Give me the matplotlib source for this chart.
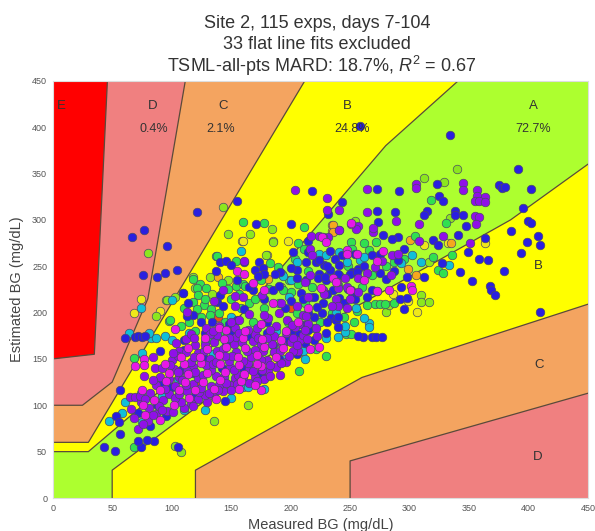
"""Clarke/Parkes style error grid with per-experiment scatter of estimated vs measured BG."""
import matplotlib
matplotlib.use("Agg")
import numpy as np
import matplotlib.pyplot as plt

plt.rcParams['font.family'] = ['Liberation Sans', 'DejaVu Sans']
plt.rcParams['mathtext.fontset'] = 'custom'
plt.rcParams['mathtext.it'] = 'Liberation Sans:italic'
plt.rcParams['mathtext.rm'] = 'Liberation Sans'

# zone boundaries (measured, estimated)
d_upper = [(0, 150), (35, 155), (46, 450)]
c_upper = [(0, 100), (25, 100), (50, 125), (80, 215), (111.5, 450)]
b_upper = [(0, 60), (30, 60), (212, 450)]
a_upper = [(0, 50), (30, 50), (140, 170), (280, 380), (341, 450)]
a_lower = [(50, 0), (50, 30), (170, 145), (385, 300), (450, 360)]
b_lower = [(120, 0), (120, 30), (260, 130), (450, 209)]
c_lower = [(250, 0), (250, 40), (450, 113)]

zone_labels = ['E', 'D', 'C', 'B', 'A', 'B', 'C', 'D']
zone_label_x = [7, 84, 143, 248, 404, 408, 409, 408]
zone_label_y = [423, 423, 423, 423, 423, 250, 143, 44]
pct_labels = ['0.4%', '2.1%', '24.8%', '72.7%']
pct_x = [85, 141, 252, 404]
pct_y = [398, 398, 398, 398]

ticks = [0, 50, 100, 150, 200, 250, 300, 350, 400, 450]

lime_pts = [(79.7, 264), (143.5, 314), (147.5, 285), (118, 238), (132, 238), (108, 50), (135.5, 83), (164.5, 100),
            (312, 345), (329, 341), (339.7, 355), (334, 302), (254, 299), (310, 219), (310, 211), (316, 211),
            (280, 201), (283, 208), (87, 196), (95, 213), (102.6, 217), (96, 214), (103, 56), (185, 276),
            (179.6, 262), (192, 228), (120, 226), (134, 220), (147.5, 235), (166, 285), (184, 290), (316, 254)]
yellow_pts = [(159, 277), (185.5, 277), (198, 277), (180, 262), (74.5, 215), (68, 200), (90, 202), (305.9, 201),
              (312, 273), (332, 275), (159.6, 277), (363, 275), (299, 212), (286, 220)]
orange_pts = [(235, 294), (235, 288), (300, 278), (335, 275), (236, 294), (236, 287), (181, 236), (138.6, 238),
              (299, 247), (305, 240)]
redorange_pts = [(139, 195), (125, 125), (200, 205)]
green_pts = [(160, 298), (178, 297), (118, 236), (137.5, 261), (68.5, 151), (98, 191), (68, 55), (318, 321),
             (331, 297), (335.6, 262), (211, 292), (324, 246), (328, 243), (320, 260), (271, 209), (275, 209.5),
             (279, 209), (287, 210), (230, 153), (207, 137), (137.7, 261), (154.5, 256), (124, 231), (128.7, 226),
             (121, 226), (122, 219), (118, 211), (127, 208), (121, 204), (133, 204), (142, 232), (153.7, 229),
             (160, 231), (157, 220), (132, 197), (98.5, 192), (206, 275), (211, 268), (193.5, 224), (199, 235),
             (251, 276), (189, 249), (182.7, 253), (161.5, 229), (193, 242), (203.5, 258), (206, 231), (252, 269),
             (272, 276), (266, 267), (286.6, 255), (295, 258), (304.6, 283), (264, 208), (255.9, 202), (246.7, 177),
             (251, 177), (221, 161), (110, 205), (115, 190), (128, 215), (140, 200), (150, 215), (165, 210),
             (175, 235), (150, 170), (135, 170), (178, 205), (190, 210), (198, 190), (205, 200), (215, 245),
             (240, 230), (260, 228), (168, 190), (145, 190), (120, 180), (182, 225), (170, 215), (158, 205),
             (147, 225), (200, 222), (218, 228), (232, 242), (248, 250), (268, 240), (280, 250), (262, 275),
             (125, 195), (108, 185), (212, 210), (245, 195), (235, 200), (225, 190), (253, 190), (140, 178)]
cyan_pts = [(64, 178), (74, 205), (75, 156), (61, 103), (74, 113), (47.5, 83), (100, 214), (94, 175), (83, 172),
            (81, 178), (87, 172), (160, 120), (164, 120), (310, 254), (302, 262), (333, 251), (266, 189),
            (262, 194), (266, 184), (246, 179), (240, 174), (158.7, 266), (224, 263), (205.6, 255), (247.7, 255),
            (193.5, 239), (230, 262), (199, 217), (217, 217), (258, 257), (262, 260), (241, 265), (293, 253),
            (220, 183), (230, 172), (210, 158), (246, 185), (100, 170), (115, 178), (128, 168), (105, 128),
            (92, 110), (135, 155), (150, 195), (170, 175), (188, 180), (75, 82), (58, 92), (110, 95), (195, 150),
            (128, 95), (150, 108), (178, 118), (212, 150), (238, 200), (255, 205), (200, 235)]
blue_pts = [(66.9, 281), (76.7, 289), (96, 272), (121.7, 308), (155, 320), (75.8, 241), (87.9, 238), (94, 243),
            (104.7, 246), (109.4, 221), (171, 296), (200, 296), (258, 401), (333.6, 391), (391, 355), (217.7, 331),
            (272.9, 333), (291, 331), (322.7, 339), (375, 338), (378, 334), (380.6, 335), (402, 333), (325, 326),
            (328, 320), (395, 313), (338, 310), (338, 305), (345, 305), (314.6, 309), (312.3, 305), (288, 308),
            (272.9, 309), (273.4, 298), (243.4, 319), (231.8, 306), (347.6, 293), (341, 284), (399.6, 299),
            (401.7, 297), (385, 288), (408, 282), (399, 276), (410, 273), (393.9, 264), (363, 280), (349, 265),
            (358, 258), (365.7, 257), (379, 245), (327, 253), (342.5, 244), (352.8, 234), (367.7, 229), (368.5, 224),
            (372, 219), (312, 238), (320, 278), (324, 273), (410, 201), (295, 204), (292, 215), (298, 216),
            (234, 194), (238, 192), (240, 184), (261, 174), (268, 174), (272, 174), (277, 174), (257, 175),
            (43.4, 55), (52.4, 51), (56.5, 69), (56.5, 117), (74, 55), (72, 62), (85, 62), (105, 55), (79, 63),
            (61, 173), (69, 174), (72, 175), (75, 174), (78, 175), (90, 158), (53, 88), (56, 82),
            (141, 254), (146, 256), (150, 251), (137, 245), (109.7, 221), (113.9, 210), (140.5, 219), (138, 211),
            (143, 207), (118, 197), (113, 196), (134, 190), (148, 188), (161, 204), (214.6, 277), (202, 265),
            (233.5, 266), (237, 258), (221.5, 255), (228, 251), (241, 251), (205.6, 246), (224, 242), (233, 246),
            (252, 244), (256.6, 247), (205.6, 237), (213, 235), (223, 237), (230, 235), (241, 240), (168.5, 224),
            (173.6, 254), (177, 248), (185, 224), (190, 229), (191, 244), (186.6, 242), (160.6, 255), (209, 221),
            (235.7, 224), (251, 224), (252, 217), (178, 242), (170, 246), (173, 239), (224, 257), (231, 250),
            (228.6, 238), (240, 242), (249.6, 242), (256, 244), (254, 263), (275, 263), (290.6, 281), (285, 279),
            (278, 284), (295.6, 269), (290, 257), (275, 243), (287.3, 245), (293, 227), (268, 224), (241, 216),
            (210, 215), (220, 217), (231, 220), (227, 210), (245, 210), (254, 215), (264, 217), (220, 195),
            (231, 190), (215, 181), (220, 170), (207, 177), (212, 167), (230, 178), (110, 160), (125, 190),
            (155, 192), (165, 175), (180, 190), (195, 205), (200, 180), (185, 165), (150, 178), (100, 120),
            (88, 100), (72, 92), (118, 135), (135, 115), (160, 140), (175, 135), (190, 150), (142, 140),
            (120, 110), (95, 88), (82, 78), (110, 170), (128, 178), (205, 155), (170, 155), (145, 105),
            (215, 200), (226, 200), (240, 195), (248, 225), (262, 250), (268, 262), (280, 236), (298, 238),
            (213, 255), (200, 248), (215, 265), (243, 262), (200, 212), (165, 228), (178, 215), (155, 235),
            (92, 125), (108, 138), (126, 152), (146, 167), (180, 178), (196, 170), (210, 187), (222, 206)]
purple_pts = [(204, 332), (230.5, 323), (241, 311), (264.5, 333), (264, 308), (289, 299), (308, 296), (305.6, 339),
              (305, 334), (345, 340), (345, 332), (357, 332), (357, 326), (363, 325), (354.6, 320), (358, 320),
              (363, 319), (355, 304), (358, 303), (355.6, 296), (351, 275), (328, 283), (231, 311), (241, 289),
              (269, 287), (257, 293), (84, 152), (77, 132), (65, 109), (69, 109), (143, 224), (136, 212), (153, 218),
              (160, 217), (112.5, 201), (129, 183), (153, 183), (157, 192), (153, 207), (160.6, 256), (217, 283),
              (241, 289), (224, 283), (231.5, 281), (216, 269), (218, 262), (216, 240), (212, 233), (246, 237),
              (247.7, 228), (256.6, 237), (227, 224), (240, 226), (255, 290), (176, 219), (256.6, 222), (269, 291),
              (227, 281), (277, 256), (285, 262), (264, 243), (271, 249), (290.6, 263), (308, 277), (284.7, 241),
              (214.6, 217), (228, 220), (238, 215), (250, 215), (240, 207), (247, 205), (210, 197), (215, 188),
              (221.6, 183), (207, 188), (206, 158),
              (72, 74), (80, 83), (68, 86), (87, 91), (66, 96), (81, 97), (96, 94), (110, 97), (74, 104), (93, 106),
              (108, 104), (122, 107), (130, 103), (82, 113), (98, 112), (113, 115), (128, 111), (143, 115), (87, 122),
              (103, 121), (118, 123), (133, 121), (149, 122), (165, 124), (90, 131), (106, 130), (122, 129), (137, 132),
              (153, 129), (170, 131), (178, 128), (86, 140), (102, 139), (118, 141), (133, 138), (149, 141), (165, 139),
              (181, 137), (188, 141), (100, 149), (116, 147), (132, 150), (148, 148), (164, 146), (180, 149), (196, 147),
              (106, 158), (122, 156), (138, 159), (154, 157), (170, 160), (186, 157), (202, 159), (104, 167), (120, 165),
              (136, 168), (152, 166), (168, 169), (184, 166), (200, 168), (208, 170), (138, 176), (154, 174), (170, 177),
              (186, 175), (202, 173), (210, 176), (140, 185), (172, 183), (188, 186), (204, 184), (181, 194), (197, 192),
              (213, 196), (165, 198), (205, 207), (190, 200),
              (76, 80), (84, 89), (73, 110), (89, 99), (103, 108), (116, 102), (123, 114), (136, 110), (150, 116),
              (94, 118), (109, 127), (125, 119), (140, 122), (156, 133), (172, 126), (84, 127), (99, 143), (113, 137),
              (129, 143), (144, 131), (160, 130), (176, 138), (191, 133), (105, 153), (119, 152), (135, 145), (151, 153),
              (167, 152), (183, 143), (199, 153), (112, 171), (127, 159), (143, 161), (159, 168), (175, 166), (191, 159),
              (205, 165), (116, 177), (132, 177), (148, 172), (164, 181), (180, 172), (196, 178), (150, 190), (178, 197),
              (192, 210), (212, 181), (222, 175), (235, 207),
              (78, 107), (92, 95), (101, 93), (118, 99), (131, 113), (106, 112), (112, 122), (126, 133), (139, 116),
              (146, 124), (155, 123), (168, 137), (183, 132), (98, 128), (105, 136), (120, 136), (137, 147), (152, 138),
              (160, 148), (175, 149), (192, 146), (112, 157), (128, 165), (145, 153), (163, 158), (177, 158), (193, 166),
              (119, 172), (135, 180), (157, 178), (173, 172), (201, 187), (183, 181), (214, 171), (92, 140), (101, 156)]
magenta_pts = [(251, 296), (69, 142), (76.5, 150), (76.5, 143), (175, 116), (170, 122), (155, 245), (103, 182),
               (140, 183), (161, 242), (247.7, 263), (251, 297), (226, 281), (230, 276), (247.7, 267), (256, 263),
               (168, 232), (178, 224), (225.6, 226), (235.7, 237), (238.6, 233), (247, 263), (273, 256), (238.5, 233),
               (262, 235), (250, 224), (273, 223), (277.6, 266), (283, 224), (301, 229), (302, 224), (273, 223),
               (216, 161), (224, 163), (78, 90), (90, 84), (76, 100), (102, 100), (85, 106), (115, 108), (137, 107),
               (75, 116), (90, 116), (106, 117), (120, 116), (136, 118), (157, 118), (95, 126), (111, 125), (126, 125),
               (141, 127), (158, 126), (98, 135), (114, 134), (130, 135), (145, 136), (161, 134), (175, 142), (94, 145),
               (110, 144), (125, 146), (141, 145), (157, 143), (172, 145), (108, 152), (124, 152), (140, 154), (156, 152),
               (172, 154), (188, 152), (114, 162), (130, 161), (146, 163), (162, 162), (178, 163), (194, 162), (128, 172),
               (144, 171), (160, 172), (176, 171), (192, 170), (146, 181), (162, 180), (196, 180), (206, 190), (175, 188),
               (215, 205), (185, 210)]

# drawn back to front, so the last colours sit on top of the crowd
layers = [(yellow_pts, '#EFE81A'), (lime_pts, '#8CE81E'), (orange_pts, '#F5A81E'), (redorange_pts, '#F05010'),
          (green_pts, '#30E050'), (cyan_pts, '#10BFD8'), (blue_pts, '#2A1FE0'), (purple_pts, '#9010E8'),
          (magenta_pts, '#E818E8')]


def poly_below(upper):
    # close a boundary through the bottom right corner
    xs = [p[0] for p in upper] + [450, 450, 0]
    ys = [p[1] for p in upper] + [450, 0, 0]
    return xs, ys


def poly_under(lower):
    xs = [p[0] for p in lower] + [450]
    ys = [p[1] for p in lower] + [0]
    return xs, ys


fig = plt.figure(figsize=(5.95, 5.31), dpi=100)
ax = fig.add_axes([52.7 / 595, 33 / 531, 535.3 / 595, 417.3 / 531])
ax.set_facecolor('red')

edge = '#5a4a3a'
for boundary, color in [(d_upper, '#F08080'), (c_upper, '#F4A460'), (b_upper, 'yellow'), (a_upper, '#ADFF2F')]:
    xs, ys = poly_below(boundary)
    ax.fill(xs, ys, facecolor=color, edgecolor='none', zorder=1)
    ax.plot([p[0] for p in boundary], [p[1] for p in boundary], color=edge, lw=0.9, zorder=2)
for boundary, color in [(a_lower, 'yellow'), (b_lower, '#F4A460'), (c_lower, '#F08080')]:
    xs, ys = poly_under(boundary)
    ax.fill(xs, ys, facecolor=color, edgecolor='none', zorder=2)
    ax.plot([p[0] for p in boundary], [p[1] for p in boundary], color=edge, lw=0.9, zorder=3)

for i, (pts, color) in enumerate(layers):
    arr = np.array(pts)
    ax.scatter(arr[:, 0], arr[:, 1], s=38, c=color, edgecolors='#4a4a66', linewidths=0.5,
               zorder=4 + i * 0.01, clip_on=True)

for label, x, y in zip(zone_labels, zone_label_x, zone_label_y):
    ax.text(x, y, label, ha='center', va='center', fontsize=9.5, color='#333333', zorder=6)
for label, x, y in zip(pct_labels, pct_x, pct_y):
    ax.text(x, y, label, ha='center', va='center', fontsize=9, color='#333333', zorder=6)

ax.set_xlim(0, 450)
ax.set_ylim(0, 450)
ax.set_xticks(ticks)
ax.set_yticks(ticks)
ax.tick_params(length=0, labelsize=6.5, labelcolor='#555555', pad=4)
for spine in ax.spines.values():
    spine.set_color('#dddddd')
    spine.set_linewidth(0.8)
ax.set_xlabel('Measured BG (mg/dL)', fontsize=10.5, color='#444444', labelpad=4)
ax.set_ylabel('Estimated BG (mg/dL)', fontsize=10.5, color='#444444', labelpad=6)

fig.text(0.533, 0.955, 'Site 2, 115 exps, days 7-104', ha='center', va='center', fontsize=13, color='#333333')
fig.text(0.533, 0.916, '33 flat line fits excluded', ha='center', va='center', fontsize=13, color='#333333')
fig.text(0.541, 0.8757, 'TSML-all-pts MARD: 18.7%, $R^2$ = 0.67', ha='center', va='center', fontsize=13, color='#333333')

fig.savefig('out.png', dpi=100)
